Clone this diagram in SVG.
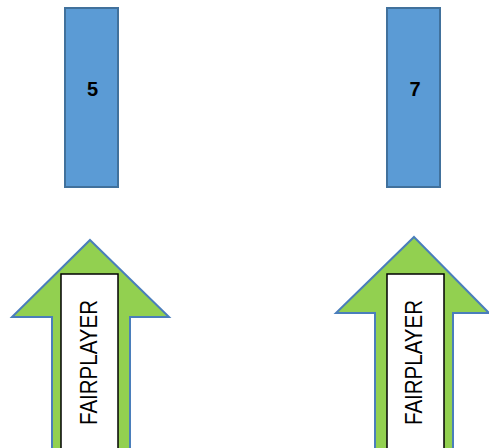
<svg xmlns="http://www.w3.org/2000/svg" width="489" height="448" viewBox="0 0 489 448">
  <style>
    .box { fill: #5B9BD5; stroke: #41719C; stroke-width: 2; }
    .num { font-family: "Liberation Sans", Arial, sans-serif; font-weight: bold; font-size: 20px; fill: #000; text-anchor: middle; }
    .arrow { fill: #92D050; stroke: #4A7EBB; stroke-width: 2; stroke-linejoin: miter; }
    .label-bg { fill: #FFFFFF; stroke: #000; stroke-width: 1.5; }
    .label { font-family: "Liberation Sans", Arial, sans-serif; font-size: 24px; fill: #000; text-anchor: middle; }
  </style>
  <rect width="489" height="448" fill="#FFFFFF"/>

  <g id="box-5">
    <rect class="box" x="65" y="8" width="53" height="179"/>
    <text class="num" x="92.5" y="95.5">5</text>
  </g>

  <g id="box-7">
    <rect class="box" x="387" y="8" width="53" height="179"/>
    <text class="num" x="415" y="95.5">7</text>
  </g>

  <g id="arrow-left">
    <path class="arrow" d="M90,240 L169,317 L130,317 L130,452 L52,452 L52,317 L12,317 Z"/>
    <rect class="label-bg" x="61" y="274" width="57" height="180"/>
    <text class="label" transform="translate(97,362.5) rotate(-90)" x="0" y="0" textLength="125" lengthAdjust="spacingAndGlyphs">FAIRPLAYER</text>
  </g>

  <g id="arrow-right">
    <path class="arrow" d="M414,237 L489,313 L453,313 L453,452 L375,452 L375,313 L336,313 Z"/>
    <rect class="label-bg" x="387" y="274" width="57" height="180"/>
    <text class="label" transform="translate(422,362.5) rotate(-90)" x="0" y="0" textLength="125" lengthAdjust="spacingAndGlyphs">FAIRPLAYER</text>
  </g>

  <g id="connectors"/>
</svg>
